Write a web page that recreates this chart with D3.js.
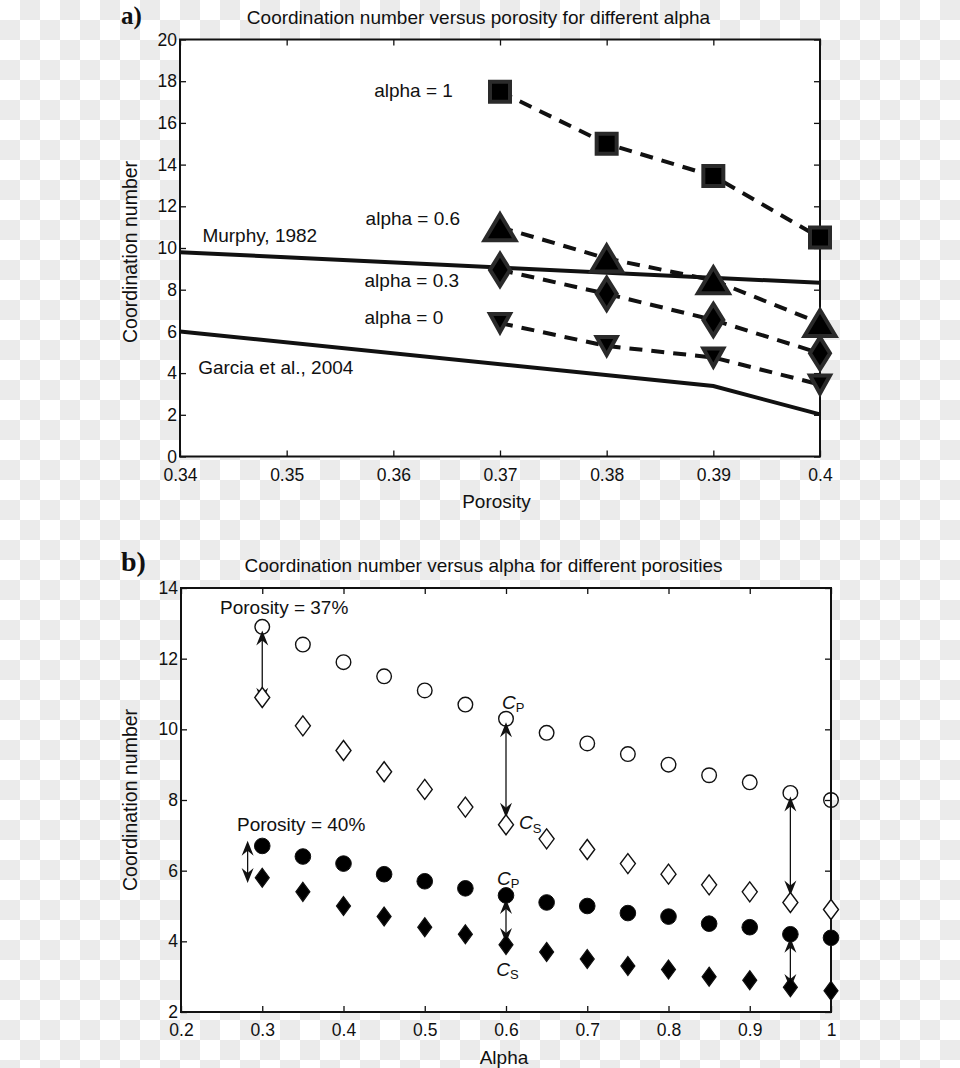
<!DOCTYPE html>
<html><head><meta charset="utf-8">
<script src="https://cdn.jsdelivr.net/npm/d3@7/dist/d3.min.js"></script>
<style>body{margin:0;background:#fff}svg{display:block}text{font-family:"Liberation Sans",Arial,Helvetica,sans-serif;fill:#111}</style>
</head><body>
<svg id="c" width="960" height="1068"></svg>
<script>
// ---------- Panel a data ----------
const porosityA = [0.37, 0.38, 0.39, 0.40];
const alpha1   = [17.5, 15.0, 13.45, 10.5];
const alpha06  = [11.0, 9.5, 8.45, 6.4];
const alpha03  = [8.95, 7.8, 6.55, 4.95];
const alpha0   = [6.4, 5.3, 4.75, 3.45];
const murphyX  = [0.34, 0.40];
const murphyY  = [9.8, 8.33];
const garciaX  = [0.34, 0.39, 0.40];
const garciaY  = [6.0, 3.38, 2.02];
const xTicksA  = [0.34, 0.35, 0.36, 0.37, 0.38, 0.39, 0.40];
const xTickLabelsA = ["0.34","0.35","0.36","0.37","0.38","0.39","0.4"];
const yTicksA  = [0,2,4,6,8,10,12,14,16,18,20];
const labelsA = [
  {t:"alpha = 1", x:0.3582, y:17.58},
  {t:"alpha = 0.6", x:0.3574, y:11.44},
  {t:"Murphy, 1982", x:0.3421, y:10.62},
  {t:"alpha = 0.3", x:0.3573, y:8.47},
  {t:"alpha = 0", x:0.3573, y:6.69},
  {t:"Garcia et al., 2004", x:0.3417, y:4.29}
];
// ---------- Panel b data ----------
const alphaB = [0.3,0.35,0.4,0.45,0.5,0.55,0.6,0.65,0.7,0.75,0.8,0.85,0.9,0.95,1.0];
const cp37 = [12.9,12.4,11.9,11.5,11.1,10.7,10.3,9.9,9.6,9.3,9.0,8.7,8.5,8.2,8.0];
const cs37 = [10.9,10.1,9.4,8.8,8.3,7.8,7.3,6.9,6.6,6.2,5.9,5.6,5.4,5.1,4.9];
const cp40 = [6.7,6.4,6.2,5.9,5.7,5.5,5.3,5.1,5.0,4.8,4.7,4.5,4.4,4.2,4.1];
const cs40 = [5.8,5.4,5.0,4.7,4.4,4.2,3.9,3.7,3.5,3.3,3.2,3.0,2.9,2.7,2.6];
const arrowsB = [
  {x:0.3, y1:12.8, y2:10.75}, {x:0.6, y1:10.2, y2:7.5}, {x:0.95, y1:8.1, y2:5.3},
  {x:0.282, y1:6.85, y2:5.65}, {x:0.6, y1:5.2, y2:3.95}, {x:0.95, y1:4.1, y2:2.65}
];
const xTicksB = [0.2,0.3,0.4,0.5,0.6,0.7,0.8,0.9,1.0];
const xTickLabelsB = ["0.2","0.3","0.4","0.5","0.6","0.7","0.8","0.9","1"];
const yTicksB = [2,4,6,8,10,12,14];
const labelsB = [
  {t:"Porosity = 37%", x:0.248, y:13.46},
  {t:"Porosity = 40%", x:0.2689, y:7.32}
];
const cLabelsB = [
  {c:"C", s:"P", x:0.595, y:10.77},
  {c:"C", s:"S", x:0.616, y:7.36},
  {c:"C", s:"P", x:0.589, y:5.79},
  {c:"C", s:"S", x:0.588, y:3.22}
];

const svg = d3.select("#c");
// checkerboard background
const defs = svg.append("defs");
const pat = defs.append("pattern").attr("id","cb").attr("width",40).attr("height",40).attr("patternUnits","userSpaceOnUse");
pat.append("rect").attr("width",40).attr("height",40).attr("fill","#fff");
pat.append("rect").attr("x",20).attr("y",0).attr("width",20).attr("height",20).attr("fill","#ebebeb");
pat.append("rect").attr("x",0).attr("y",20).attr("width",20).attr("height",20).attr("fill","#ebebeb");
svg.append("rect").attr("width",960).attr("height",1068).attr("fill","url(#cb)");

function frame(g, x, y, ticksX, labX, ticksY, left, right, top, bottom){
  g.append("rect").attr("x",left).attr("y",top).attr("width",right-left).attr("height",bottom-top).attr("fill","#fff");
  const fmtX = (d)=> labX[ticksX.indexOf(d)];
  const ax = g.append("g").attr("transform",`translate(0,${bottom})`)
    .call(d3.axisBottom(x).tickValues(ticksX).tickFormat(fmtX).tickSizeInner(-6).tickSizeOuter(0).tickPadding(12));
  const ay = g.append("g").attr("transform",`translate(${left},0)`)
    .call(d3.axisLeft(y).tickValues(ticksY).tickFormat(d3.format("d")).tickSizeInner(-6).tickSizeOuter(0).tickPadding(3));
  const at = g.append("g").attr("transform",`translate(0,${top})`)
    .call(d3.axisTop(x).tickValues(ticksX).tickFormat("").tickSizeInner(-6).tickSizeOuter(0));
  const ar = g.append("g").attr("transform",`translate(${right},0)`)
    .call(d3.axisRight(y).tickValues(ticksY).tickFormat("").tickSizeInner(-6).tickSizeOuter(0));
  [ax,ay,at,ar].forEach(a=>{
    a.select(".domain").remove();
    a.selectAll("line").attr("stroke","#111").attr("stroke-width",1.3);
    a.selectAll("text").attr("font-size",17.5).attr("fill","#111").style("font-family","'Liberation Sans',Arial,sans-serif");
  });
  g.append("rect").attr("x",left).attr("y",top).attr("width",right-left).attr("height",bottom-top)
    .attr("fill","none").attr("stroke","#111").attr("stroke-width",2);
}

// ================= Panel a =================
const LA=180, RA=820, TA=39.5, BA=456.5;
const xA = d3.scaleLinear().domain([0.34,0.40]).range([LA,RA]);
const yA = d3.scaleLinear().domain([0,20]).range([BA,TA]);
const gA = svg.append("g");
frame(gA, xA, yA, xTicksA, xTickLabelsA, yTicksA, LA, RA, TA, BA);

const lineA = d3.line().x(d=>xA(d[0])).y(d=>yA(d[1]));
gA.append("path").attr("d", lineA(murphyX.map((v,i)=>[v,murphyY[i]])))
  .attr("fill","none").attr("stroke","#111").attr("stroke-width",4);
gA.append("path").attr("d", lineA(garciaX.map((v,i)=>[v,garciaY[i]])))
  .attr("fill","none").attr("stroke","#111").attr("stroke-width",4);

const seriesA = [
  {vals:alpha1, shape:"square"},
  {vals:alpha06, shape:"tri"},
  {vals:alpha03, shape:"diamond"},
  {vals:alpha0, shape:"tridown"}
];
seriesA.forEach(s=>{
  gA.append("path").attr("d", lineA(porosityA.map((v,i)=>[v,s.vals[i]])))
    .attr("fill","none").attr("stroke","#111").attr("stroke-width",4).attr("stroke-dasharray","13,9");
});
function shapePath(shape, w, h){
  const a=w/2, b=h/2;
  if(shape==="square") return `M${-a},${-b}H${a}V${b}H${-a}Z`;
  if(shape==="tri") return `M0,${-b}L${a},${b}L${-a},${b}Z`;
  if(shape==="tridown") return `M0,${b}L${a},${-b}L${-a},${-b}Z`;
  if(shape==="diamond") return `M0,${-b}L${a},0L0,${b}L${-a},0Z`;
}
const sizeA = {square:[20,20], tri:[31,26], diamond:[20,32], tridown:[20,18]};
seriesA.forEach(s=>{
  gA.selectAll(null).data(porosityA.map((v,i)=>[v,s.vals[i]])).enter().append("path")
    .attr("transform",d=>`translate(${xA(d[0])},${yA(d[1])})`)
    .attr("d", shapePath(s.shape, sizeA[s.shape][0], sizeA[s.shape][1]))
    .attr("fill","#000").attr("stroke","#2a2a2a").attr("stroke-width",4).attr("stroke-linejoin","miter");
});
gA.selectAll(null).data(labelsA).enter().append("text")
  .attr("x",d=>xA(d.x)).attr("y",d=>yA(d.y)).attr("dy","0.36em")
  .attr("font-size",19).text(d=>d.t);

svg.append("text").attr("x",478.5).attr("y",17).attr("dy","0.36em").attr("text-anchor","middle")
  .attr("font-size",19).text("Coordination number versus porosity for different alpha");
svg.append("text").attr("x",496.5).attr("y",501).attr("dy","0.36em").attr("text-anchor","middle")
  .attr("font-size",19).text("Porosity");
svg.append("text").attr("transform","translate(130,252) rotate(-90)").attr("dy","0.36em").attr("text-anchor","middle")
  .attr("font-size",19.5).text("Coordination number");
svg.append("text").attr("x",121).attr("y",24).attr("font-size",25).attr("font-weight","bold")
  .style("font-family","'Liberation Serif','Times New Roman',serif").text("a)");

// ================= Panel b =================
const LB=181, RB=831, TB=588, BB=1012;
const xB = d3.scaleLinear().domain([0.2,1.0]).range([LB,RB]);
const yB = d3.scaleLinear().domain([2,14]).range([BB,TB]);
const gB = svg.append("g");
frame(gB, xB, yB, xTicksB, xTickLabelsB, yTicksB, LB, RB, TB, BB);

// arrows
function head(x,y,dir){ // dir -1 points up, +1 points down
  const L=15, W=6, N=10;
  return `M${x},${y}L${x-W},${y-dir*L}L${x},${y-dir*N}L${x+W},${y-dir*L}Z`;
}
arrowsB.forEach(a=>{
  const x=xB(a.x), y1=yB(a.y1), y2=yB(a.y2);
  gB.append("line").attr("x1",x).attr("x2",x).attr("y1",y1+4).attr("y2",y2-4)
    .attr("stroke","#111").attr("stroke-width",1.3);
  gB.append("path").attr("d",head(x,y1,-1)).attr("fill","#111");
  gB.append("path").attr("d",head(x,y2,1)).attr("fill","#111");
});

function pts(vals){ return alphaB.map((v,i)=>[v,vals[i]]); }
gB.selectAll(null).data(pts(cp37)).enter().append("circle")
  .attr("cx",d=>xB(d[0])).attr("cy",d=>yB(d[1])).attr("r",7.3)
  .attr("fill","none").attr("stroke","#111").attr("stroke-width",1.4);
gB.selectAll(null).data(pts(cs37)).enter().append("path")
  .attr("transform",d=>`translate(${xB(d[0])},${yB(d[1])})`).attr("d",shapePath("diamond",15,20))
  .attr("fill","#fff").attr("stroke","#111").attr("stroke-width",1.4);
gB.selectAll(null).data(pts(cp40)).enter().append("circle")
  .attr("cx",d=>xB(d[0])).attr("cy",d=>yB(d[1])).attr("r",7.8)
  .attr("fill","#000").attr("stroke","#111").attr("stroke-width",1);
gB.selectAll(null).data(pts(cs40)).enter().append("path")
  .attr("transform",d=>`translate(${xB(d[0])},${yB(d[1])})`).attr("d",shapePath("diamond",14,19))
  .attr("fill","#000").attr("stroke","#111").attr("stroke-width",1.2);

gB.selectAll(null).data(labelsB).enter().append("text")
  .attr("x",d=>xB(d.x)).attr("y",d=>yB(d.y)).attr("dy","0.36em")
  .attr("font-size",19).text(d=>d.t);
const cl = gB.selectAll(null).data(cLabelsB).enter().append("text")
  .attr("x",d=>xB(d.x)).attr("y",d=>yB(d.y)).attr("dy","0.36em").attr("font-size",19);
cl.append("tspan").attr("font-style","italic").text(d=>d.c);
cl.append("tspan").attr("font-size",13).attr("dy","0.25em").text(d=>d.s);

svg.append("text").attr("x",483.5).attr("y",565).attr("dy","0.36em").attr("text-anchor","middle")
  .attr("font-size",19).text("Coordination number versus alpha for different porosities");
svg.append("text").attr("x",504).attr("y",1057).attr("dy","0.36em").attr("text-anchor","middle")
  .attr("font-size",19).text("Alpha");
svg.append("text").attr("transform","translate(130,800) rotate(-90)").attr("dy","0.36em").attr("text-anchor","middle")
  .attr("font-size",19.5).text("Coordination number");
svg.append("text").attr("x",121).attr("y",571).attr("font-size",28).attr("font-weight","bold")
  .style("font-family","'Liberation Serif','Times New Roman',serif").text("b)");
</script>
</body></html>
